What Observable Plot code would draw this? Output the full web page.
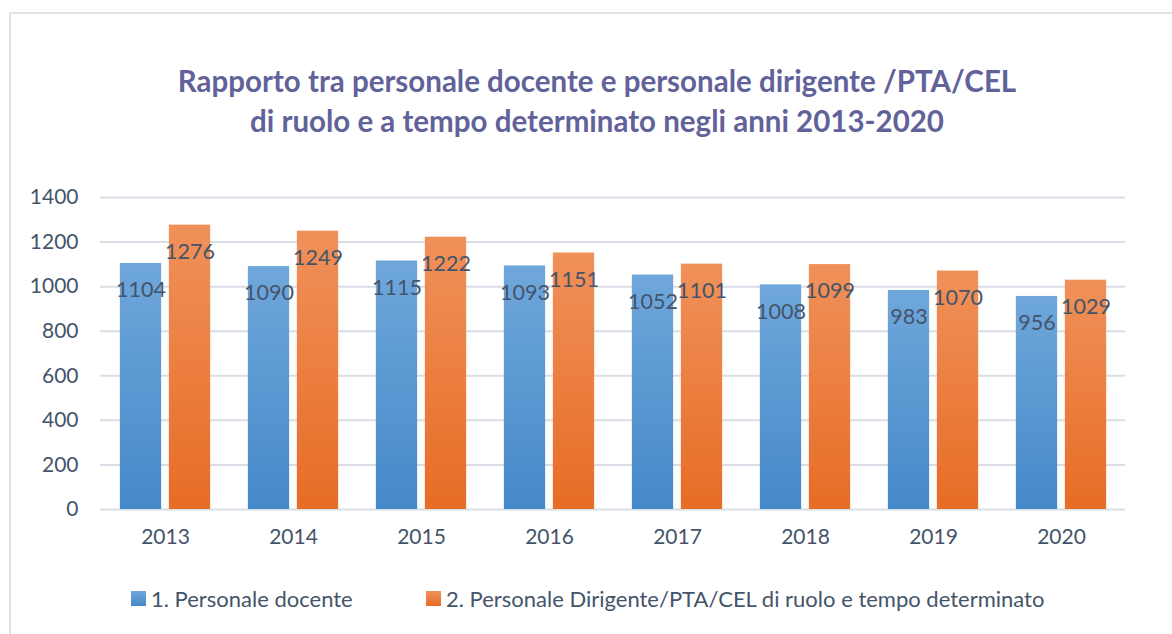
<!DOCTYPE html>
<html><head><meta charset="utf-8">
<script src="https://cdn.jsdelivr.net/npm/d3@7"></script>
<script src="https://cdn.jsdelivr.net/npm/@observablehq/plot@0.6"></script>
<style>
html,body{margin:0;padding:0;background:#fff;width:1172px;height:634px;overflow:hidden;font-family:Lato,"Open Sans",sans-serif;}
#frame{position:absolute;left:9px;top:12px;width:1200px;height:700px;border-left:2px solid #dfe3ea;border-top:2px solid #dfe3ea;box-sizing:border-box;}
#title{position:absolute;left:0;top:61px;width:1194px;text-align:center;font-weight:bold;font-size:29.5px;line-height:40px;color:#62629a;}
#chart{position:absolute;left:0;top:170px;}
#legend{position:absolute;top:583px;left:0;width:1172px;height:30px;font-size:22px;color:#44546a;}
.lg{position:absolute;top:0;display:flex;align-items:center;height:30px;}
.sw{width:15px;height:15px;margin-right:5px;}
</style></head>
<body>
<div id="frame"></div>
<div id="title">Rapporto tra personale docente e personale dirigente /PTA/CEL<br>di ruolo e a tempo determinato negli anni 2013-2020</div>
<div id="chart"></div>
<div id="legend">
  <div class="lg" style="left:131px"><div class="sw" style="background:linear-gradient(#6fa7db,#4589c8)"></div><span>1. Personale docente</span></div>
  <div class="lg" style="left:426px"><div class="sw" style="background:linear-gradient(#f0915a,#e76c25)"></div><span>2. Personale Dirigente/PTA/CEL di ruolo e tempo determinato</span></div>
</div>
<script>
const years = ["2013","2014","2015","2016","2017","2018","2019","2020"];
const docenti = [1104,1090,1115,1093,1052,1008,983,956];
const dirigenti = [1276,1249,1222,1151,1101,1099,1070,1029];
const seriesNames = ["1. Personale docente","2. Personale Dirigente/PTA/CEL di ruolo e tempo determinato"];
const yTicks = [0,200,400,600,800,1000,1200,1400];

const dataDoc = years.map((y,i)=>({year:y, series:seriesNames[0], value:docenti[i]}));
const dataDir = years.map((y,i)=>({year:y, series:seriesNames[1], value:dirigenti[i]}));

const textColor = "#44546a";
const barOpts = (fill, dx) => ({x:"year", y1:0, y2:"value", fill, dx, insetLeft:24.35, insetRight:24.35});
const labelOpts = (dx) => ({x:"year", y:"value", dx, dy:27, text:d=>String(d.value), fill:textColor, fontSize:21.5});
const chart = Plot.plot({
  width:1172, height:390,
  marginTop:27, marginBottom:51, marginLeft:100, marginRight:47,
  style:{fontFamily:"Lato, 'Open Sans', sans-serif", fontSize:"21px", color:textColor, background:"transparent"},
  x:{domain:years, paddingInner:0.3, paddingOuter:0.15, label:null},
  y:{domain:[0,1400], ticks:yTicks, label:null},
  marks:[
    Plot.gridY(yTicks, {stroke:"#d9dde5", strokeOpacity:1, strokeWidth:2}),
    Plot.axisY(yTicks, {tickSize:0, tickPadding:22, fontSize:21, fill:textColor, label:null, tickFormat:d3.format("d")}),
    Plot.axisX({tickSize:0, tickPadding:20, fontSize:21, fill:textColor, label:null}),
    Plot.barY(dataDoc, barOpts("url(#gBlue)", -24.5)),
    Plot.barY(dataDir, barOpts("url(#gOrange)", 24.5)),
    Plot.text(dataDoc, labelOpts(-24.5)),
    Plot.text(dataDir, labelOpts(24.5))
  ]
});
const svg = d3.select(chart);
const defs = svg.insert("defs", ":first-child");
const g1 = defs.append("linearGradient").attr("id","gBlue").attr("x1",0).attr("y1",0).attr("x2",0).attr("y2",1);
g1.append("stop").attr("offset","0%").attr("stop-color","#6fa7db");
g1.append("stop").attr("offset","100%").attr("stop-color","#4589c8");
const g2 = defs.append("linearGradient").attr("id","gOrange").attr("x1",0).attr("y1",0).attr("x2",0).attr("y2",1);
g2.append("stop").attr("offset","0%").attr("stop-color","#f0915a");
g2.append("stop").attr("offset","100%").attr("stop-color","#e76c25");
document.getElementById("chart").appendChild(chart);
</script>
</body></html>
